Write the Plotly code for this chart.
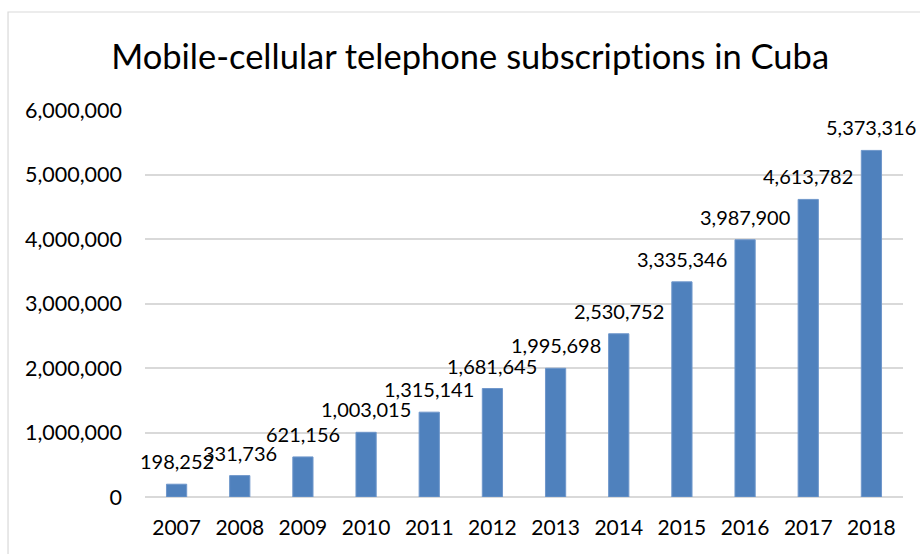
import plotly.graph_objects as go

years = ["2007", "2008", "2009", "2010", "2011", "2012",
         "2013", "2014", "2015", "2016", "2017", "2018"]
subscriptions = [198252, 331736, 621156, 1003015, 1315141, 1681645,
                 1995698, 2530752, 3335346, 3987900, 4613782, 5373316]
y_ticks = [0, 1000000, 2000000, 3000000, 4000000, 5000000, 6000000]

bar_color = "#4F81BD"
grid_color = "#D9D9D9"
font_family = "Lato, 'Open Sans', sans-serif"

positions = list(range(len(years)))

fig = go.Figure()
fig.add_trace(go.Bar(
    x=positions,
    y=subscriptions,
    marker=dict(color=bar_color, line=dict(color="#6F97CB", width=1)),
    width=0.32,
    hovertext=years,
    hoverinfo="text+y",
))

# value labels above each bar
for pos, val in zip(positions, subscriptions):
    fig.add_annotation(
        x=pos, y=val, text=f"{val:,}",
        showarrow=False, yanchor="bottom", yshift=9,
        font=dict(family=font_family, size=20, color="#000000"),
    )

# light outline around the chart area
fig.add_shape(
    type="rect", xref="paper", yref="paper",
    x0=-0.1807, x1=1.05, y0=-0.2, y1=1.2532,
    line=dict(color=grid_color, width=1.2), fillcolor="rgba(0,0,0,0)",
    layer="below",
)

# zero-width non-joiner keeps "t" and "i" as separate glyphs (no ligature)
title_text = "Mobile-cellular telephone subscript\u200cions in Cuba"

fig.update_layout(
    width=920, height=554,
    margin=dict(l=145, r=17, t=110, b=57),
    paper_bgcolor="#FFFFFF", plot_bgcolor="#FFFFFF",
    showlegend=False,
    title=dict(
        text=title_text,
        x=0.511, xanchor="center", y=0.897, yanchor="middle",
        font=dict(family=font_family, size=34.5, color="#000000"),
    ),
    xaxis=dict(
        range=[-0.5, len(years) - 0.5],
        tickvals=positions, ticktext=years,
        showgrid=False, showline=False, zeroline=False,
        ticks="", ticklabelstandoff=16,
        tickfont=dict(family=font_family, size=21, color="#000000"),
    ),
    yaxis=dict(
        range=[0, 6000000], tickvals=y_ticks,
        ticktext=[f"{v:,}" for v in y_ticks],
        showgrid=True, gridcolor=grid_color, gridwidth=1.5,
        zeroline=True, zerolinecolor=grid_color, zerolinewidth=1.5,
        showline=False, ticks="", ticklabelstandoff=22,
        tickfont=dict(family=font_family, size=21.5, color="#000000"),
    ),
)

fig.write_html("out.html")
